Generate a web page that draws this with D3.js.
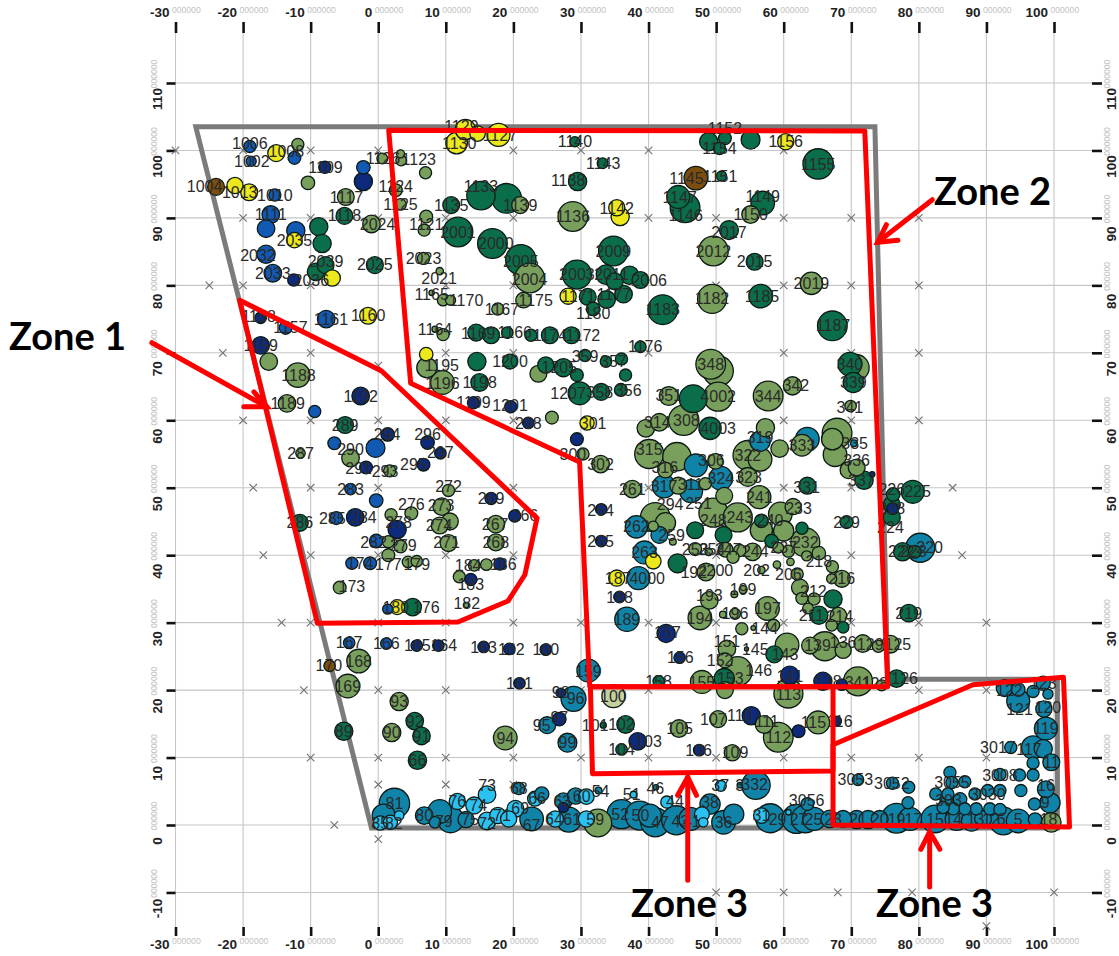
<!DOCTYPE html>
<html><head><meta charset="utf-8">
<script src="https://cdn.jsdelivr.net/npm/d3@7"></script>
<style>html,body{margin:0;padding:0;background:#fff}svg{display:block}</style>
</head><body><div id="chart"></div>
<script>
const xTicks=[-30,-20,-10,0,10,20,30,40,50,60,70,80,90,100];
const yTicks=[-10,0,10,20,30,40,50,60,70,80,90,100,110];
const tickDecimals="000000";

const olive=[[-11.9,100.9,1.8],[-10.4,95.2,2],[0.6,98.8,1.6],[3.3,99.5,1.2],[3.4,98.5,1.6],[7,96.7,1.8],[-4.8,93.1,2.5],[-1,89.1,2.6],[2.6,94.1,1.9],[3.3,92,1.7],[7.1,90.2,1.9],[6.8,88.2,1.8],[6.7,84,1.8],[9.1,82.1,1.1],[7.9,78.9,.8],[9.6,77.8,1.7],[10.7,77.8,1.5],[17.7,76.5,1.8],[21.5,77.8,2.3],[21,91.9,2.5],[22.4,81.1,4.4],[28.8,90.2,4.4],[49.4,78,4.3],[64.1,80.3,3.3],[49.6,85.1,4.4],[55.1,90.5,2.6],[49.2,68.3,4.4],[50.3,67.3,4.5],[43,63.6,2.8],[50.3,63.5,4.3],[57.7,63.6,4.4],[61.3,65.1,2.7],[70.7,67.8,3.9],[69.9,62.1,1.7],
[-16.2,68.7,2.6],[-11.9,66.7,3.6],[-13.5,62.5,2.6],[-11.5,55.1,1.4],[-4.1,54.4,2.6],[1.7,52.5,1.8],[1.9,46,1.8],[4.9,46.2,1.9],[1.5,42,1.8],[3.3,41.3,1.9],[1.5,40,1.9],[4.4,39,1.7],[5.7,39.1,1.7],[-5.7,35.2,1.9],[10.4,49.6,1.8],[9.4,47.2,2.6],[10.6,45,2.5],[9.1,44.4,2.5],[10.4,41.8,2.5],[17.4,44.6,2.6],[17.4,41.9,2.5],[12,36.8,1.8],[14.2,38.5,1.7],[16,38.6,1.7],[13,32.6,.8],[9.6,72.7,1.8],[8.4,73.5,.9],[7.2,67.8,3],[9.5,65.6,3.5],[25.7,60.4,1.9],[23.7,66.9,2.5],[30.3,55,1.8],
[32.9,53.5,2.6],[39.6,58.8,2.6],[41.6,59.7,2.6],[45.2,60,4.5],[57.3,58.9,2.7],[54.7,54.8,4.4],[56.5,54.2,3.5],[59.4,55.8,2.6],[62.7,56.3,3.2],[67.9,58.1,4.4],[67.2,57.2,3.2],[67.6,54.9,3.5],[69.6,52.6,2.5],[70.8,53,2.5],[40.1,55,4.3],[44.2,54.6,4.2],[49.9,53.9,2.3],[42.5,52.6,2.3],[44.4,50.3,2.5],[48.4,50.6,1.8],[54.7,51.6,2.8],[51.2,48.8,2.5],[56.4,48.6,3.4],[37.6,49.8,2.6],[41,45.6,4.4],[42.5,44.8,3],[40.7,44.3,1.5],[49.6,46.3,4.3],[53.2,45.6,4.3],[56.7,43.7,3.3],[59.5,46.1,3.5],[61.4,47.2,2.4],[60,43.6,3],[63.2,41.9,4.3],[60.7,40.6,1.8],[59.2,41.1,1.6],[55.4,40.5,2.6],[53.5,40.7,1.8],[51.4,40.8,2.2],[52.5,39.7,1.8],[46.9,40.9,1.9],[48.9,40.5,1.1],[43.6,42,1],[48.5,37.5,2.6],[47.9,21.2,3.4],[53.2,22.8,4.3],[51.3,20,2.5],[51.6,26.1,2.6],[51.3,24.4,2.2],[54.5,26.1,.6],[60.5,26.7,3.5],[63.9,26.6,2.5],[66.1,26.5,4.3],[68.8,25.9,2.4],[71.7,26.9,2.6],[74,26.5,1.8],[75.8,26.8,2.6],[53.8,29.1,1.8],[55.5,29.2,.7],[58.5,29.6,1.8],[51,31.2,1],[52.8,31.3,1.6],[47.6,30.7,3.5],[49,33.3,2.6],[52.7,34.2,1],[54,34.9,1.2],[57.6,32.1,3.5],[56.7,37.8,1.1],[59,38.6,1.1],[61,39,1.1],[62,37.2,1.8],[62.4,35.2,2.5],[62.7,33.6,1.8],[64.5,33.5,1.8],[63.6,32.1,1.6],[68.1,31,2.5],[67.1,29.6,1.7],[68.6,36.5,2.5],[67.1,36.5,1.5],[67.2,38.3,1.8],[65.2,40.3,2],[63.4,39.9,1.5],[71,21.3,4.3],[74.5,20.7,1.6],[60.7,19.5,4.3],
[-2.9,24.3,3.5],[-4.5,20.6,3.5],[18.8,12.9,3.5],[3.1,18.3,2.7],[2,13.7,2.7],[44.5,14.3,2.6],[52.4,10.7,2.4],[50.3,15.7,2.5],[57.1,14.9,2.6],[59.2,13,4.4],[65.1,15.2,3.4],[32.5,.3,4.1],[99.6,.4,2.9]];

const darkGreen=[[-8.8,88.7,2.7],[-8.3,86.2,2.7],[-9.2,82,2.6],[-7.8,83,2.5],[-5,90.3,2.5],[-.5,83,2.5],[10.8,91.9,2.5],[11.8,87.9,4.4],[15.2,93.3,4.2],[19,92.9,4.4],[16.9,86.2,4.4],[21.1,83.8,4.5],[29.1,101.3,1.5],[33.2,98.1,1.6],[29.5,95.4,2.7],[34.8,85.1,4.4],[29.4,81.6,4.3],[31,78.3,2.5],[33.8,77.9,2.6],[36.3,78.7,2.6],[31.8,76.5,2],[33.7,81.6,2.9],[35,80.6,2.5],[37.2,81.5,2.7],[38.8,80.8,2.5],[42.1,76.4,4.4],[56.6,78.4,3.5],[67.2,74,4.4],[55.7,83.5,2.5],[51.9,88.2,2.8],[65.1,98,4.5],[55.1,101.6,2.8],[48.9,101.3,2.7],[51.3,101.8,1.9],[50.5,100.3,1.8],[50.8,96.2,1.5],[44.4,93.1,3.4],[45.4,91.5,4.4],[56.9,92.2,3.5],[38.8,70.9,1.7],[30.6,69.6,1.8],[33.7,68.7,1.7],[36,69.1,1.8],[29.4,66.7,1.9],[36.6,66.7,1.8],[29.8,64,3.4],[33,64.2,2.5],[35.9,64.5,1.9],[46.6,63.2,4.1],[69.8,68.3,3.5],[70.3,65.6,3],
[-4.9,59.3,2.5],[-11.6,44.8,2.5],[5.1,32.3,2.6],[14.5,73,2.5],[16.7,72.6,2.5],[19.1,73,1.7],[22.6,72.6,1.8],[25.4,72.6,2.5],[28.6,72.6,2.5],[14.6,68.7,2.7],[19.5,68.7,2.2],[15,65.6,2.6],[24.8,68.2,2.4],[27.4,67.8,2.7],
[49.1,58.8,3.3],[71.9,51.1,2.7],[63.5,50.3,2.5],[46.9,43.7,2.5],[51.1,43,2.5],[56.7,45.1,2],[62.7,44,1.8],[58.2,42.1,2],[44.3,38.8,2.8],[41.5,21.3,1.7],[51.2,21.7,3],[58.6,25.3,2.5],[67.3,33.5,2.7],[65.2,31.1,2.7],[68.8,29.3,1.7],[78.5,31.4,2.6],[69.3,44.9,1.9],[76,47.5,2.5],[76,45.6,2.5],[76.2,49,2],[79.1,49.4,3.4],[77.6,40.5,2.7],[79.4,40.5,1.9],[76.7,21.7,2.6],
[5.4,15.4,2.6],[6.4,13.2,2.6],[-5.1,13.9,2.7],[5.8,9.6,2.7],[33.3,14.8,.9],[36.6,14.9,2.6],[36,11.2,1.7]];

const navy=[[-2.2,95.4,2.7],[-12.5,80.8,1.8],[-7.9,97.5,1.8],[-17.4,75.2,1.7],[-17.4,71.1,2.6],[-2.6,63.6,2.6],[1.4,57.9,2],[-1.8,53,1.9],[6.7,53.4,1.9],[7.3,56.7,2],[9.2,55.1,1.7],[-3.4,45.6,2.6],[2.8,43.8,2.7],[16.7,48.4,1.8],[20.2,45.8,1.8],[13.7,36.4,1.8],[18,38.7,1.8],[14.1,62.6,1.8],[19.6,62,1.8],[22.2,59.6,1.7],[29.4,57.2,1.9],[33,46.8,1.7],[33,42.1,1.7],[35.7,33.8,1.7],[42.6,28.4,2.7],[44.6,24.8,1.7],[60.9,22.2,2.7],[65.8,21.3,2.7],[68.6,20.8,1.7],[76.1,46.9,1.7],[73.1,52,.8],[5.7,26.6,1.7],[8.9,26.6,1.7],[15.6,26.4,1.7],[19.4,26.1,1.7],[24.8,26,1.7],[20.9,21,1.7],[26.8,15.7,2],[38.4,12.4,2.6],[47.5,11.1,1.7],[55.2,16.2,2.7],[62.2,13.9,1.9],[67.8,15.4,1.5],[27.4,2.6,1.5],[27,19.6,1.4]];

const blue=[[-19,100.6,1.8],[-18.8,98.4,1.5],[-12.4,98.9,1.9],[-2.2,97.5,2],[-15.3,93.4,1.8],[-15.9,90.5,2.6],[-16.6,88.4,2.6],[-12.2,88.1,2.7],[-16.6,84.6,2.7],[-15.6,81.8,2.6],[-13.7,73.7,1.9],[-7.7,75,2.6],[-9.4,61.3,1.8],[-6.5,56.6,1.9],[-.4,55.9,2.8],[-4.1,49.8,1.7],[-.3,48.1,2],[-6.2,45.5,1.9],[-.3,42.1,2],[-3.9,38.8,1.8],[-1.2,38.8,1.9],[1.4,32,1.5],[-4.3,27,1.7],[1.2,26.9,1.7]];

const yellow=[[-21.2,94.8,2.4],[-19.1,93.8,2.5],[-15.1,99.6,2.5],[-12.4,86.7,2.3],[-6.8,81.1,2.4],[17.8,102.3,3.4],[14.7,102.5,2.3],[12.9,103.1,3],[11.6,101.1,3.2],[60.3,101.3,2.4],[35.3,91.5,2.4],[35.8,90.2,2.7],[28.1,78.4,2.4],[-1.5,75.5,2.5],[7.1,69.8,2],[30.9,59.6,2.1],[2.8,32.3,2.2],[40.7,39.1,2.3],[35.3,36.6,2.4]];

const brown=[[-24,94.6,2.5],[47,95.9,3.5],[-7.2,23.6,1.7]];

const pale=[[34.8,19.1,3.4]];

const teal=[[56.5,56.9,3],[63.5,57.2,3.5],[70.4,56.6,1],[47,53.3,3.4],[42.3,50.2,3.4],[46.3,49.5,3.4],[50.7,51.4,3.5],[38.2,44.2,3.3],[41.6,43,2.5],[39.4,40.4,3.4],[38.5,36.6,3.4],[36.8,30.5,3.6],[31.1,22.9,3.4],[80.2,41.1,4.3],
[28.9,18.7,3.7],[25,14.8,2.5],[28,12.2,2.8],[2.4,3.2,4.5],[.8,1.4,3.4],[6.8,1.4,2.6],[9.1,2,3.5],[10.7,.8,3.9],[8.4,.4,1.7],[13,.8,2.4],[20.8,5.4,1.8],[22.7,.9,3.5],[24.2,4.6,2.1],[28.2,.8,3.7],[27.4,3.5,2.5],[29.2,4.3,2.4],[32.6,5.1,1],[41.1,5.6,.8],[36,1.6,4.3],[38.7,1.4,4.3],[40.2,1.4,3.4],[41,.4,4.3],[44.1,.7,4.3],[46.2,.9,3.4],[53.5,5.9,.8],[55.9,5.9,4.2],[49.1,3.1,3],[51.1,.4,3.5],[52.6,1.6,3],[58,1,4.3],[63.5,3.1,1.9],[61.9,.9,4.3],[63.2,.9,4.1],[64.5,.9,3.4],[66.8,.9,2.6],[71,6.7,1.7],[76.1,6.2,1.8],[78.5,5.6,1.8],[78.4,3.3,1.8],[68.8,.9,2.5],[70.8,.8,2.7],[72.5,.8,2.7],[74.2,.9,2.5],[76.7,1,4.4],[78.7,.9,3.4],[82.4,.9,4.1],[85.6,.9,3.4],[87.8,.6,3],[89.5,.9,2.5],[92.5,.6,4.1],[94.7,.6,3.5],[97.2,.8,2],
[84.6,7.8,1.8],[84.9,6.3,1.8],[86.8,6.4,1.8],[82.5,4.6,1.8],[84.3,4.6,1.8],[84.1,3.3,2],[86.1,3.8,2],[88.3,4.6,1.8],[90.2,5.1,1.8],[92,5.1,1.8],[92,7.5,1.8],[94.9,7.4,1.8],[95.1,5.1,1.8],[96.9,7.4,1.8],[88.5,2.4,1.8],[86.8,2.4,1.8],[90.5,2.4,1.8],[92,2.3,1.8],[85.1,2.4,1.8],[97.1,3.1,1.8],[83.6,2.6,1.8],[98.8,5.3,2.5],[99.4,3.3,3],[96.9,9.2,1.8],[99.6,9.3,2.5],[96.9,11.5,3.4],[98.4,11.3,2.7],[93.6,11.5,1.8],[98.8,14.3,3.4],[98.5,17.2,2.4],[94.7,18.4,3.4],[92.7,20.3,2.5],[94.7,20.1,2],[96.9,19.8,1.8],[99.1,19.4,1.5],[98.4,21,2.1]];

const cyan=[[.3,.3,2.1],[1.8,.4,2.1],[3.1,1.4,1.4],[11.7,3.5,2.4],[16.1,4.5,2.6],[14.2,2.9,2.5],[16.1,.6,2.6],[17.7,1.4,2.4],[19.3,.9,2.4],[20.3,2.4,2.5],[23.2,3.9,2.2],[26.2,.9,2.4],[30.8,.9,2.4],[30.8,4.2,2.3],[37.8,4.5,1],[42.7,3.4,1.8],[50.7,5.8,1.6],[47.9,1.6,2.2],[48.1,.4,1.4],[56.7,1.4,2.3],[60.7,1.9,.8]];

const pointLabels=[[-25.7,94.7,"1004"],[-20.5,93.8,"1013"],[-19,101.1,"1006"],[-18.7,98.4,"1002"],[-13.6,99.8,"1008"],[-7.8,97.5,"1109"],[.7,98.8,"1126"],[6,98.6,"1123"],[-15.3,93.3,"1010"],[-15.9,90.5,"1111"],[-12.4,86.7,"2035"],[-17.8,84.5,"2032"],[-15.6,81.8,"2033"],[-9.9,80.8,"2036"],[-7.8,83.6,"2039"],[-4.7,93.1,"1117"],[-5,90.3,"1118"],[-.1,89,"2024"],[2.6,94.6,"1124"],[3.3,92,"1125"],[7.1,89.1,"1121"],[-.5,83.1,"2025"],[6.7,84,"2023"],[9,81.1,"2021"],[7.9,78.6,"1165"],[13,77.8,"1170"],[18.3,76.5,"1167"],[23.3,77.7,"1175"],[10.8,91.9,"1135"],[11.8,87.9,"2001"],[15.2,94.7,"1133"],[21,91.9,"1139"],[17.4,86.2,"2000"],[21.1,83.5,"2005"],[22.4,80.9,"2004"],[18,102.3,"1127"],[12.3,103.5,"1129"],[12,101.1,"1130"],
[29.1,101.3,"1140"],[33.3,98.1,"1143"],[28.1,95.5,"1138"],[28.8,90.2,"1136"],[34.8,85.1,"2009"],[35.3,91.4,"1142"],[29.4,81.6,"2003"],[29.6,78.4,"1171"],[34.9,78.6,"1177"],[31.8,75.9,"1180"],[34.5,81.6,"2011"],[40.1,80.8,"2006"],[42.1,76.4,"1183"],[49.4,78,"1182"],[56.8,78.4,"1185"],[64.1,80.3,"2019"],[67.3,74,"1187"],[49.6,85.1,"2012"],[55.7,83.5,"2015"],[51.9,87.9,"2017"],[65.1,98,"1155"],[60.3,101.3,"1156"],[50.5,100.3,"1154"],[51.3,103.3,"1152"],[45.6,95.8,"1145"],[50.6,96.1,"1151"],[44.6,93.1,"1147"],[45.5,90.3,"1146"],[56.9,93.2,"1149"],[55.1,90.5,"1150"],[30.3,72.6,"1172"],[39.5,70.9,"1176"],[30.6,69.5,"359"],[34.8,68.8,"357"],[28.1,64,"1207"],[32.8,64.2,"358"],[37,64.5,"356"],[49.2,68.3,"348"],[43,63.7,"351"],[50.3,63.5,"4002"],[57.7,63.6,"344"],[61.8,65.1,"342"],[69.8,68.3,"340"],[70.3,65.6,"339"],[69.8,61.9,"341"],
[-17.7,75.4,"1158"],[-13,73.7,"1157"],[-7,74.9,"1161"],[-1.5,75.5,"1160"],[-17.4,71.1,"1159"],[-11.8,66.7,"1188"],[-13.4,62.5,"1189"],[-2.6,63.6,"1192"],[-4.9,59.3,"289"],[-11.5,55.1,"287"],[1.3,57.9,"294"],[-4.1,55.7,"290"],[-2.9,52.9,"291"],[1,52.4,"293"],[5.2,53.4,"295"],[7.3,57.9,"296"],[9.2,55.2,"297"],[-4.1,49.8,"283"],[-11.6,44.8,"286"],[-6.8,45.5,"285"],[-2.2,45.6,"284"],[4.9,47.5,"276"],[3,44.8,"278"],[-.7,41.9,"282"],[3.7,41.4,"279"],[-2.7,38.8,"174"],[1.5,38.6,"177"],[5.7,38.7,"179"],[-3.9,35.3,"173"],[2.6,32.3,"180"],[7.1,32.3,"176"],[10.4,50.2,"272"],[9.3,47.4,"273"],[9,44.4,"274"],[10.1,41.9,"271"],[16.7,48.4,"269"],[17.3,44.6,"267"],[21.7,45.9,"266"],[17.4,41.9,"268"],[13.7,35.7,"183"],[13.3,38.5,"184"],[18.5,38.7,"186"],[13.1,32.8,"182"],[8.4,73.4,"1164"],[14.8,72.9,"1169"],[20.2,73,"1166"],[25.4,72.6,"1174"],[9.4,68.1,"1195"],[9.5,65.5,"1196"],[19.5,68.7,"1200"],[15,65.6,"1198"],[14.1,62.6,"1199"],[19.5,62.2,"1201"],[22.2,59.6,"298"],[26.8,67.8,"1205"],[31.8,59.6,"301"],[28.8,55,"300"],
[32.9,53.4,"302"],[41.3,59.7,"314"],[45.6,60,"308"],[50.3,58.8,"4003"],[56.5,57.4,"319"],[54.7,54.8,"322"],[62.7,56.3,"333"],[70.5,56.6,"335"],[70.8,54,"336"],[71.5,51.1,"337"],[40.1,55.7,"315"],[49.3,54,"306"],[42.4,53,"316"],[42.3,50.2,"317"],[46.2,50.5,"311"],[50.7,51.4,"324"],[54.8,51.6,"323"],[56.4,48.6,"241"],[63.4,50.1,"331"],[37.6,49.8,"261"],[43.2,47.5,"294"],[47.4,47.7,"251"],[49.6,45.2,"248"],[53.5,45.6,"243"],[58,45.1,"240"],[62.2,47,"233"],[63.2,41.9,"232"],[60,41.1,"237"],[55.8,40.5,"244"],[51.8,40.8,"247"],[46.9,40.9,"253"],[49.4,40.9,"254"],[38.2,44.3,"262"],[43.4,43,"259"],[39.4,40.4,"263"],[46.7,37.5,"192"],[49.9,37.8,"2200"],[39.8,36.6,"4000"],[35.5,36.5,"187"],[35.7,33.8,"188"],[36.8,30.5,"189"],[32.9,46.7,"264"],[32.9,42.1,"265"],[42.8,28.6,"157"],[44.7,24.8,"156"],[41.5,21.3,"158"],[31.1,22.8,"159"],[47.9,21.2,"155"],[52.1,21.7,"153"],[51.6,27.2,"151"],[50.6,24.4,"152"],[55.8,26,"145"],[56.3,22.9,"146"],[60.2,25.3,"143"],[65,26.6,"139"],[68.8,27.1,"136"],[72.8,26.8,"129"],[76.9,26.8,"125"],[57.2,29.2,"144"],[52.8,31.3,"196"],[47.6,30.7,"194"],[49,34,"193"],[54,34.9,"199"],[57.6,32.1,"197"],[56,37.8,"202"],[60.7,37.1,"206"],[64.4,34.7,"212"],[64.1,31,"211"],[68.3,30.9,"214"],[68.6,36.5,"216"],[65.2,39.1,"218"],[78.5,31.3,"219"],[69.3,44.9,"229"],[76,46.9,"228"],[79.8,49.4,"225"],[76,49.7,"226"],[75.8,44.1,"224"],[81.6,41.1,"220"],[77.4,40.5,"222"],[79.2,40.5,"223"],[71,21.1,"341"],[73.5,21,"128"],[77.9,21.7,"126"],[60.9,22,"141"],[60.7,19.4,"113"],[66.6,21.3,"138"],[34.8,19.1,"100"],
[-4.3,27,"167"],[-2.9,24.3,"168"],[-7.3,23.6,"170"],[-4.5,20.6,"169"],[1.2,26.9,"166"],[5.8,26.6,"165"],[9.7,26.6,"164"],[15.6,26.4,"163"],[19.7,26,"162"],[24.8,26,"160"],[20.9,21,"161"],[27,19.6,"98"],[29.2,18.7,"96"],[24.2,14.8,"95"],[26.8,15.9,"97"],[28,12.2,"99"],[18.8,12.9,"94"],[3.1,18.3,"93"],[5.4,15.4,"92"],[6.4,13.2,"91"],[2,13.7,"90"],[-5.1,13.9,"89"],[5.8,9.6,"66"],[32.1,14.7,"101"],[36,14.9,"102"],[40,12.4,"103"],[36,11.2,"104"],[44.6,14.3,"105"],[2.4,3.2,"81"],[.3,.3,"85"],[2.3,.3,"82"],[6.8,1.4,"80"],[9.7,.6,"79"],[13.6,.8,"75"],[11.7,3.5,"76"],[16.1,5.8,"73"],[14.8,2.9,"74"],[16.1,.3,"72"],[18.3,1.4,"71"],[21,2.4,"69"],[20.8,5.5,"68"],[22.7,0,"67"],[23.5,3.9,"66"],[26,.9,"64"],[28.7,.9,"61"],[32.1,.9,"59"],[27.2,3.5,"63"],[30.1,4.2,"60"],[32.9,5,"54"],[37.5,4.6,"51"],[41,5.5,"46"],[43.9,3.5,"44"],[35.8,1.6,"52"],[38.8,1.4,"50"],[41.7,.4,"47"],[44.7,.6,"43"],
[47.4,11.1,"106"],[52.8,10.7,"109"],[49.6,15.7,"107"],[53.5,16.2,"110"],[57.5,15.4,"111"],[59.2,13,"112"],[64.4,15.2,"115"],[68.3,15.4,"116"],[50.6,5.8,"37"],[53.5,5.9,"3"],[55.7,6,"332"],[49.1,3.3,"38"],[46.4,.6,"41"],[51.1,.4,"36"],[56.7,1.4,"31"],[59.1,.9,"29"],[63.4,3.7,"3056"],[62.2,.8,"27"],[64.4,.8,"25"],[67.3,.9,"23"],[70.6,6.7,"3053"],[76,6.1,"3052"],[71,.9,"21"],[74.2,.9,"20"],[76.7,.9,"19"],[79.2,.9,"17"],[82.4,.8,"15"],[85.1,.9,"14"],[88.4,.8,"13"],[90.7,.9,"12"],[92.2,.9,"6"],[94.7,.9,"5"],[99.2,.8,"18"],[84.9,6.3,"3055"],[90.2,4.6,"3030"],[84.4,3.6,"303"],[92,7.4,"3008"],[98.8,5.8,"16"],[98.7,3.3,"9"],[99.6,9.3,"11"],[96.3,11.2,"117"],[91.7,11.5,"3017"],[98.8,14.3,"119"],[99.1,17.4,"120"],[94.9,17.1,"121"],[93.4,20,"122"],[98.4,21,"123"]];

const crossMarks=[[-30,100],[-20,100],[-10,100],[0,100],[20,100],[30,100],[40,100],[60,100],[-20,90],[-10,90],[0,90],[10,90],[20,90],[40,90],[50,90],[60,90],[70,90],[80,90],[-25,80],[-20,80],[-10,80],[10,80],[20,80],[50,80],[60,80],[70,80],[80,80],[-23,70],[-10,70],[0,68.1],[10,70],[20,70],[40,70],[60,70],[70,70],[80,70],[-20,60],[-10,60],[0,60],[10,60],[20,60],[60,60],[70,60],[80,60],[-18.5,50],[-10,50],[0,50],[20,50],[40,50],[60,50],[70,50],[85,50],[-17,40],[-10,40],[0,40],[10,40],[20,40],[50,40],[70,40],[86.4,40],[-14.3,30],[-10,30],[0,30],[10,30],[20,30],[30,30],[40,30],[50,30],[60,30],[70,30],[80,30],[90,30],[-11,20],[0,20],[10,20],[30,20],[40,20],[70,20],[80,20],[90,20],[-10,10],[0,10],[10,10],[20,10],[30,10],[40,10],[50,10],[60,10],[70,10],[80,10],[90,10],[0,6],[10,6],[20,6],[-6.5,0],[0,-2.1],[50,-10],[60,-10],[68,-10],[79,-10],[100,-10],[90,-15]];

const boundary=[[-27,103.5],[73.5,103.5],[75.4,21.6],[100.5,21.6],[100.5,-.45],[-1,-.45]];
const zone1=[[-20.5,77.8],[.5,67.3],[23.5,45.5],[21.7,37.1],[19.2,33.2],[11.8,30.1],[-9,29.9]];
const zone2=[[1.55,103],[72,102.9],[75.4,20.5],[31.3,20.5],[29.8,53.8],[4.8,65.5]];
const zone3a=[[31.4,20.5],[31.7,7.6],[67.3,8],[67.3,20.5]];
const zone3b=[[67.3,11.9],[88,20.8],[101.4,21.9],[102.3,-.3],[67.3,0]];
const arrows=[
 [[-33.5,71.5],[-16.5,62],[-19.9,62],[-18.4,64.2]],
 [[82,92.7],[73.9,86.4],[75.2,89],[76.9,86.7]],
 [[45.8,-8.2],[45.8,7.1],[44.3,4.4],[47.1,4.4]],
 [[81.6,-9.2],[81.6,-1],[80.3,-3.6],[83.1,-3.6]]];
const zoneTitles=[["Zone 1",9,350],["Zone 2",934,205],["Zone 3",631,917],["Zone 3",876,917]];

const W=1119,H=956;
const x=d3.scaleLinear().domain([-30,100]).range([175.5,1054]);
const y=d3.scaleLinear().domain([0,110]).range([825,83]);
const diam=d3.scaleLinear().domain([0,1]).range([0,6.75]);
const svg=d3.select("#chart").append("svg").attr("width",W).attr("height",H).attr("viewBox",[0,0,W,H]);

// grid
const grid=svg.append("g").attr("stroke","#c6c6c6").attr("stroke-width",1.1);
grid.selectAll("line.v").data(xTicks).join("line").attr("x1",d=>x(d)).attr("x2",d=>x(d)).attr("y1",33).attr("y2",927);
grid.selectAll("line.h").data(yTicks).join("line").attr("x1",175.5).attr("x2",1092).attr("y1",d=>y(d)).attr("y2",d=>y(d));

// axes (tick marks)
function styleAxis(g){g.select(".domain").remove();g.selectAll(".tick text").remove();g.selectAll(".tick line").attr("stroke","#111").attr("stroke-width",2.6);}
svg.append("g").attr("transform","translate(0,33)").call(d3.axisTop(x).tickValues(xTicks).tickSize(11)).call(styleAxis);
svg.append("g").attr("transform","translate(0,927)").call(d3.axisBottom(x).tickValues(xTicks).tickSize(9)).call(styleAxis);
svg.append("g").attr("transform","translate(175.5,0)").call(d3.axisLeft(y).tickValues(yTicks).tickSize(9)).call(styleAxis);
svg.append("g").attr("transform","translate(1092,0)").call(d3.axisRight(y).tickValues(yTicks).tickSize(10)).call(styleAxis);

// tick labels
const labFont="'Liberation Sans',Arial,sans-serif";
function xLabels(by,dy){
  const g=svg.append("g").attr("font-family",labFont);
  g.selectAll("text.n").data(xTicks).join("text").attr("x",d=>x(d)-6).attr("y",by).attr("text-anchor","end").attr("font-size",13.5).attr("font-weight","bold").attr("fill","#222").text(d=>d);
  g.selectAll("text.d").data(xTicks).join("text").attr("x",d=>x(d)-3.5).attr("y",dy).attr("font-size",8.6).attr("fill","#c2c2c2").text(tickDecimals);
}
xLabels(17,13); xLabels(949,944);
function yLabels(bx,dx){
  const g=svg.append("g").attr("font-family",labFont);
  g.selectAll("text.n").data(yTicks).join("text").attr("transform",d=>`translate(${bx},${y(d)+16}) rotate(-90)`).attr("text-anchor","middle").attr("font-size",13.5).attr("font-weight","bold").attr("fill","#222").text(d=>d);
  g.selectAll("text.d").data(yTicks).join("text").attr("transform",d=>`translate(${dx},${y(d)-9}) rotate(-90)`).attr("text-anchor","middle").attr("font-size",8.6).attr("fill","#c2c2c2").text(tickDecimals);
}
yLabels(162,157); yLabels(1116,1110);

// cross marks
svg.append("g").selectAll("path").data(crossMarks).join("path")
  .attr("d",d3.symbol(d3.symbolTimes,38)).attr("transform",d=>`translate(${x(d[0])},${y(d[1])})`)
  .attr("fill","none").attr("stroke","#707070").attr("stroke-width",1.1);

// boundary
const lineGen=d3.line().x(d=>x(d[0])).y(d=>y(d[1]));
const closed=d=>lineGen(d)+"Z";
svg.append("path").attr("d",closed(boundary)).attr("fill","none").attr("stroke","#7b7b7b").attr("stroke-width",5).attr("stroke-linejoin","miter");

// bubbles
const series=[[olive,"#789f5b"],[darkGreen,"#0b6e4b"],[navy,"#0d2a7c"],[blue,"#1259b4"],[yellow,"#ece81c"],[brown,"#7b4e0e"],[pale,"#c3d09f"],[teal,"#1083a8"],[cyan,"#29c2f2"]];
const marks=series.flatMap(([pts,fill])=>pts.map(p=>({x:p[0],y:p[1],d:p[2],fill})));
marks.sort((a,b)=>b.d-a.d);
svg.append("g").selectAll("circle").data(marks).join("circle")
  .attr("cx",d=>x(d.x)).attr("cy",d=>y(d.y)).attr("r",d=>diam(d.d)/2)
  .attr("fill",d=>d.fill).attr("stroke","#0c1a14").attr("stroke-width",1.3);

// point labels
svg.append("g").attr("font-family",labFont).attr("font-size",16).attr("fill","#2a2a2a").attr("text-anchor","middle")
  .selectAll("text").data(pointLabels).join("text")
  .attr("x",d=>x(d[0])).attr("y",d=>y(d[1])+5.6).text(d=>d[2]);

// zones
const zones=svg.append("g").attr("fill","none").attr("stroke","#ff0000").attr("stroke-width",5).attr("stroke-linejoin","round");
[zone1,zone2,zone3a,zone3b].forEach(z=>zones.append("path").attr("d",closed(z)));

// arrows
const arr=svg.append("g").attr("stroke","#ff0000").attr("stroke-width",5).attr("stroke-linecap","round").attr("fill","none");
arrows.forEach(a=>{
  arr.append("path").attr("d",lineGen([a[0],a[1]]));
  arr.append("path").attr("d",lineGen([a[2],a[1],a[3]])).attr("stroke-linejoin","miter");
});

// zone titles
svg.append("g").selectAll("text").data(zoneTitles).join("text")
  .attr("x",d=>d[1]).attr("y",d=>d[2]).attr("font-family","Lato,Carlito,sans-serif").attr("font-weight","bold").attr("font-size",38).attr("fill","#000").text(d=>d[0]);
</script></body></html>
